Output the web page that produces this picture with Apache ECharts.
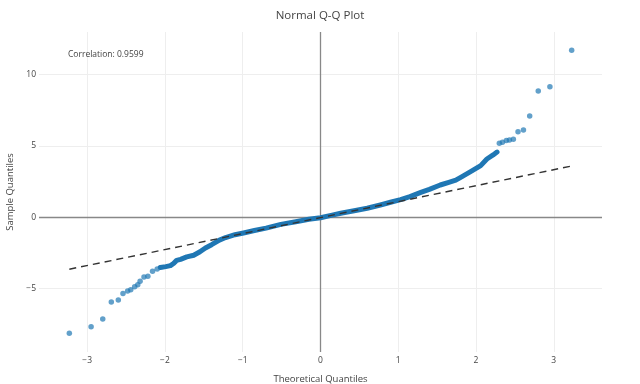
<!DOCTYPE html>
<html>
<head>
<meta charset="utf-8">
<script src="https://cdn.jsdelivr.net/npm/echarts@6/dist/echarts.min.js"></script>
<style>html,body{margin:0;padding:0;background:#fff}#c{width:640px;height:384px}</style>
</head>
<body>
<div id="c"></div>
<script>
// ---- data ----
const xTicks = [-3, -2, -1, 0, 1, 2, 3];
const yTicks = [-5, 0, 5, 10];
const xRange = [-3.62, 3.62];
const yRange = [-9.44, 12.98];

// sparse lower tail points
const lowerTailX = [-3.23, -2.95, -2.80, -2.69, -2.60, -2.54, -2.48, -2.44, -2.39, -2.35, -2.32, -2.27, -2.22, -2.16, -2.10];
const lowerTailY = [-8.13, -7.67, -7.13, -5.94, -5.80, -5.35, -5.17, -5.07, -4.86, -4.72, -4.49, -4.18, -4.13, -3.78, -3.62];
// sparse upper tail points
const upperTailX = [2.30, 2.34, 2.39, 2.43, 2.48, 2.54, 2.61, 2.69, 2.80, 2.95, 3.23];
const upperTailY = [5.18, 5.26, 5.37, 5.42, 5.47, 6.00, 6.12, 7.10, 8.85, 9.15, 11.70];
// dense central band (points overlap into a continuous band)
const bodyX = [-2.06, -1.99, -1.93, -1.89, -1.85, -1.80, -1.72, -1.63, -1.55, -1.48, -1.40, -1.30, -1.22, -1.10, -0.99, -0.85, -0.70, -0.51, -0.30, -0.15, 0.00, 0.15, 0.26, 0.45, 0.60, 0.77, 0.90, 1.03, 1.15, 1.29, 1.40, 1.54, 1.65, 1.74, 1.82, 1.93, 2.06, 2.14, 2.22, 2.27];
const bodyY = [-3.52, -3.46, -3.39, -3.24, -3.02, -2.95, -2.78, -2.66, -2.42, -2.15, -1.92, -1.60, -1.42, -1.22, -1.10, -0.93, -0.76, -0.50, -0.30, -0.14, -0.03, 0.15, 0.28, 0.47, 0.63, 0.86, 1.05, 1.24, 1.45, 1.74, 1.95, 2.26, 2.45, 2.60, 2.85, 3.20, 3.62, 4.08, 4.37, 4.57];
// reference line end points
const refX = [-3.23, 3.23];
const refY = [-3.64, 3.59];
const correlation = '0.9599';

const zip = (a, b) => a.map((v, i) => [v, b[i]]);
const FONT = '"Open Sans", "Noto Sans", sans-serif';
const chart = echarts.init(document.getElementById('c'), null, {renderer: 'canvas'});

const gridLines = [].concat(
  xTicks.filter(v => v !== 0).map(v => ({xAxis: v})),
  yTicks.filter(v => v !== 0).map(v => ({yAxis: v}))
);
const fmt = v => (v < 0 ? '\u2212' + Math.abs(v) : String(v));

chart.setOption({
  animation: false,
  backgroundColor: '#fff',
  textStyle: {fontFamily: FONT},
  title: {
    text: 'Normal Q-Q Plot', left: 'center', top: 5,
    textStyle: {fontFamily: FONT, fontSize: 11.5, fontWeight: 'normal', color: '#444'}
  },
  graphic: [{
    type: 'text', left: 68, top: 50, z: 10,
    style: {text: 'Correlation: ' + correlation, fill: '#444', font: '8.5px ' + FONT}
  }],
  grid: {left: 39, right: 38, top: 32, bottom: 32, containLabel: false, outerBoundsMode: 'none'},
  xAxis: {
    type: 'value', min: xRange[0], max: xRange[1],
    name: 'Theoretical Quantiles', nameLocation: 'middle', nameGap: 22,
    nameTextStyle: {fontFamily: FONT, fontSize: 9.5, color: '#444'},
    axisLine: {show: false}, axisTick: {show: false}, splitLine: {show: false},
    axisLabel: {customValues: xTicks, margin: 4, color: '#444', fontSize: 8.5, fontFamily: FONT, formatter: fmt}
  },
  yAxis: {
    type: 'value', min: yRange[0], max: yRange[1],
    name: 'Sample Quantiles', nameLocation: 'middle', nameGap: 20,
    nameTextStyle: {fontFamily: FONT, fontSize: 9.5, color: '#444'},
    axisLine: {show: false}, axisTick: {show: false}, splitLine: {show: false},
    axisLabel: {customValues: yTicks, margin: 3, color: '#444', fontSize: 8.5, fontFamily: FONT, formatter: fmt}
  },
  series: [
    {
      type: 'line', data: [], z: 0, silent: true,
      markLine: {
        z: 0, silent: true, symbol: ['none', 'none'], label: {show: false},
        lineStyle: {color: '#eeeeee', type: 'solid', width: 1},
        data: gridLines, animation: false
      }
    },
    {
      type: 'line', data: [], z: 1, silent: true,
      markLine: {
        z: 1, silent: true, symbol: ['none', 'none'], label: {show: false},
        lineStyle: {color: '#888', type: 'solid', width: 1.3},
        data: [{xAxis: 0}, {yAxis: 0}], animation: false
      }
    },
    {
      name: 'body', type: 'line', data: zip(bodyX, bodyY), z: 3,
      showSymbol: false, smooth: false,
      lineStyle: {color: '#1f77b4', width: 5, cap: 'round', join: 'round'}
    },
    {
      name: 'lower', type: 'scatter', data: zip(lowerTailX, lowerTailY), z: 4,
      symbolSize: 5.5, itemStyle: {color: '#1f77b4', opacity: 0.7}
    },
    {
      name: 'upper', type: 'scatter', data: zip(upperTailX, upperTailY), z: 4,
      symbolSize: 5.5, itemStyle: {color: '#1f77b4', opacity: 0.7}
    },
    {
      name: 'ref', type: 'line', data: zip(refX, refY), z: 6,
      showSymbol: false,
      lineStyle: {color: '#333', width: 1.4, type: [7, 5]}
    }
  ]
});
</script>
</body>
</html>
